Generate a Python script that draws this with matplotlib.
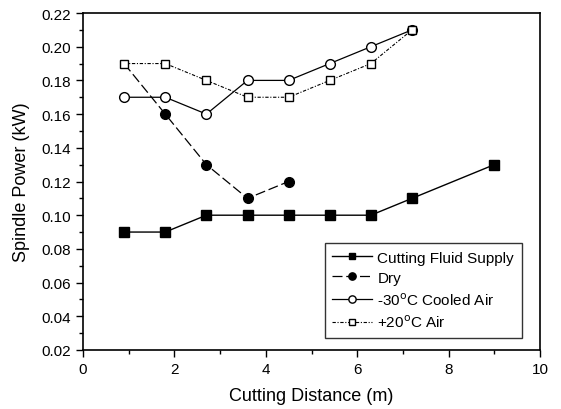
import numpy as np
import matplotlib.pyplot as plt
from matplotlib.ticker import MultipleLocator

plt.rcParams['font.family'] = ['Liberation Sans', 'DejaVu Sans']

# Cutting distance (m)
x_fluid = [0.9, 1.8, 2.7, 3.6, 4.5, 5.4, 6.3, 7.2, 9.0]
y_fluid = [0.09, 0.09, 0.10, 0.10, 0.10, 0.10, 0.10, 0.11, 0.13]

x_dry = [0.9, 1.8, 2.7, 3.6, 4.5]
y_dry = [0.19, 0.16, 0.13, 0.11, 0.12]

x_cold = [0.9, 1.8, 2.7, 3.6, 4.5, 5.4, 6.3, 7.2]
y_cold = [0.17, 0.17, 0.16, 0.18, 0.18, 0.19, 0.20, 0.21]

x_warm = [0.9, 1.8, 2.7, 3.6, 4.5, 5.4, 6.3, 7.2]
y_warm = [0.19, 0.19, 0.18, 0.17, 0.17, 0.18, 0.19, 0.21]

fig = plt.figure(figsize=(5.61, 4.10), dpi=100)
ax = fig.add_axes([83 / 561, 1 - 351 / 410, 457 / 561, 337 / 410])

ax.plot(x_fluid, y_fluid, color="black", lw=1.0, marker="s", ms=6.5,
        mfc="black", mec="black", label="Cutting Fluid Supply", zorder=3)
ax.plot(x_dry, y_dry, color="black", lw=0.9, ls=(0, (8, 3)), marker="o", ms=7,
        mfc="black", mec="black", markevery=slice(1, None), label="Dry", zorder=2)
ax.plot(x_cold, y_cold, color="black", lw=0.9, marker="o", ms=7,
        mfc="white", mec="black", label=r"-30$^{\rm o}$C Cooled Air", zorder=4)
ax.plot(x_warm, y_warm, color="black", lw=0.8, ls=(0, (3, 1.5, 1, 1.5)), marker="s", ms=6,
        mfc="white", mec="black", label=r"+20$^{\rm o}$C Air", zorder=4)

ax.set_xlim(0, 10)
ax.set_ylim(0.02, 0.22)
ax.xaxis.set_major_locator(MultipleLocator(2))
ax.xaxis.set_minor_locator(MultipleLocator(1))
ax.yaxis.set_major_locator(MultipleLocator(0.02))
ax.yaxis.set_minor_locator(MultipleLocator(0.01))
ax.yaxis.set_major_formatter(plt.FormatStrFormatter("%.2f"))
ax.tick_params(which="major", direction="out", length=5, width=1, labelsize=11)
ax.tick_params(which="minor", direction="out", length=3, width=1)
for s in ax.spines.values():
    s.set_linewidth(1.2)

ax.set_xlabel("Cutting Distance (m)", fontsize=13, labelpad=8)
ax.set_ylabel("Spindle Power (kW)", fontsize=13, labelpad=8)

leg = ax.legend(loc="lower right", bbox_to_anchor=(0.96, 0.036), borderaxespad=0,
                fontsize=11, frameon=True, fancybox=False, edgecolor="black",
                handlelength=2.6, handletextpad=0.35, borderpad=0.5,
                labelspacing=0.4, markerscale=0.75)
leg.get_frame().set_linewidth(1.0)

fig.savefig("out.png", dpi=100)
